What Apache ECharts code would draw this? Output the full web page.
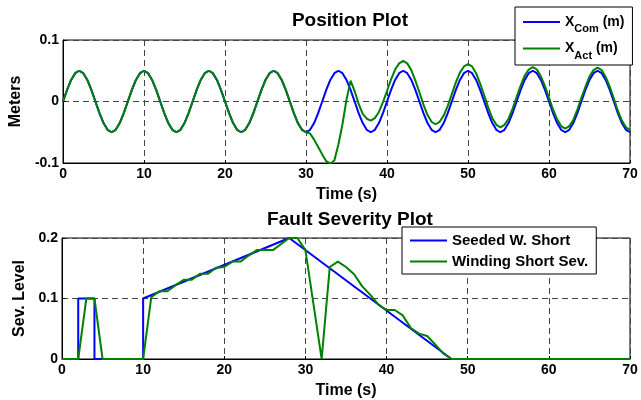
<!DOCTYPE html>
<html><head><meta charset="utf-8">
<script src="https://cdn.jsdelivr.net/npm/echarts@6/dist/echarts.min.js"></script>
<style>html,body{margin:0;padding:0;background:#fff}#c{width:641px;height:400px}</style>
</head><body><div id="c"></div>
<script>
// ---- data ----
const posStep = 0.5; // seconds between samples of the position traces
const posCom = [
 0,.019,.035,.046,.05,.046,.035,.019,0,-.019,-.035,-.046,-.05,-.046,-.035,-.019,
 0,.019,.035,.046,.05,.046,.035,.019,0,-.019,-.035,-.046,-.05,-.046,-.035,-.019,
 0,.019,.035,.046,.05,.046,.035,.019,0,-.019,-.035,-.046,-.05,-.046,-.035,-.019,
 0,.019,.035,.046,.05,.046,.035,.019,0,-.019,-.035,-.046,-.05,-.046,-.035,-.019,
 0,.019,.035,.046,.05,.046,.035,.019,0,-.019,-.035,-.046,-.05,-.046,-.035,-.019,
 0,.019,.035,.046,.05,.046,.035,.019,0,-.019,-.035,-.046,-.05,-.046,-.035,-.019,
 0,.019,.035,.046,.05,.046,.035,.019,0,-.019,-.035,-.046,-.05,-.046,-.035,-.019,
 0,.019,.035,.046,.05,.046,.035,.019,0,-.019,-.035,-.046,-.05,-.046,-.035,-.019,
 0,.019,.035,.046,.05,.046,.035,.019,0,-.019,-.035,-.046,-.05
];
const posAct = [
 0,.019,.035,.046,.05,.046,.035,.019,0,-.019,-.035,-.046,-.05,-.046,-.035,-.019,
 0,.019,.035,.046,.05,.046,.035,.019,0,-.019,-.035,-.046,-.05,-.046,-.035,-.019,
 0,.019,.035,.046,.05,.046,.035,.019,0,-.019,-.035,-.046,-.05,-.046,-.035,-.019,
 0,.019,.035,.046,.05,.046,.035,.019,0,-.019,-.035,-.046,-.05,
 -.052,-.062,-.074,-.086,-.097,-.101,-.096,-.07,-.037,.003,.034,.017,
 -.004,-.02,-.028,-.031,-.027,-.017,-.001,.017,.036,.052,.062,.066,
 .062,.051,.034,.015,-.005,-.022,-.033,-.037,-.033,-.023,-.007,.012,.031,.047,.057,.061,
 .057,.046,.029,.01,-.01,-.027,-.038,-.042,-.038,-.028,-.012,.007,.026,.042,.052,.056,
 .052,.041,.025,.006,-.013,-.029,-.04,-.044,-.04,-.03,-.013,.006,.024,.041,.051,.055,
 .051,.04,.024,.005,-.015,-.031,-.042,-.046
];
const seededT = [0, 2, 2, 4, 4, 10, 10, 28, 48, 70];
const seededV = [0, 0, 0.1, 0.1, 0, 0, 0.1, 0.2, 0, 0];
// winding short severity, one sample per second from t = 0
const windSev = [
 0,0,0,0.1,0.1,0,0,0,0,0,0,
 0.102,0.112,0.112,0.122,0.131,0.131,0.141,0.141,0.151,0.152,
 0.161,0.161,0.171,0.18,0.18,0.18,0.19,0.2,0.2,0.18,
 0.09,0,0.152,0.161,0.152,0.14,0.12,0.106,0.09,0.081,
 0.081,0.072,0.051,0.042,0.038,0.024,0.009,0,0,0,
 0,0,0,0,0,0,0,0,0,0,
 0,0,0,0,0,0,0,0,0,0
];
const xTicks = {min: 0, max: 70, interval: 10};
const posTicks = {min: -0.1, max: 0.1, interval: 0.1};
const sevTicks = {min: 0, max: 0.2, interval: 0.1};

// ---- chart ----
const FF = "'Liberation Sans', Arial, Helvetica, sans-serif";
const chart = echarts.init(document.getElementById('c'), null, {renderer: 'canvas'});
const blue = '#0000ff', green = '#008000';
function xAxis(g) {
  return {
    gridIndex: g, type: 'value', min: xTicks.min, max: xTicks.max, interval: xTicks.interval,
    name: 'Time (s)', nameLocation: 'middle', nameGap: 24,
    nameTextStyle: {fontSize: 16, fontWeight: 'bold', color: '#000', fontFamily: FF},
    axisLine: {onZero: false, lineStyle: {color: '#000', width: 1}},
    axisTick: {inside: true, length: 3, lineStyle: {color: '#000'}},
    axisLabel: {margin: 4, fontSize: 14, fontWeight: 'bold', color: '#000', fontFamily: FF},
    splitLine: {show: true, lineStyle: {color: '#444', width: 1, type: [6, 4]}}
  };
}
function yAxis(g, t, name, gap) {
  return {
    gridIndex: g, type: 'value', min: t.min, max: t.max, interval: t.interval,
    name: name, nameLocation: 'middle', nameGap: gap,
    nameTextStyle: {fontSize: 16, fontWeight: 'bold', color: '#000', fontFamily: FF},
    axisLine: {show: true, onZero: false, lineStyle: {color: '#000', width: 1}},
    axisTick: {show: true, inside: true, length: 3, lineStyle: {color: '#000'}},
    axisLabel: {margin: 4, fontSize: 14, fontWeight: 'bold', color: '#000', fontFamily: FF},
    splitLine: {show: true, lineStyle: {color: '#444', width: 1, type: [6, 4]}}
  };
}
const legText = {fontSize: 15, fontWeight: 'bold', color: '#000', fontFamily: FF};
const option = {
  backgroundColor: '#fff',
  animation: false,
  title: [
    {text: 'Position Plot', left: 345, top: 6, textAlign: 'center',
     textStyle: {fontSize: 19, fontWeight: 'bold', color: '#000', fontFamily: FF}},
    {text: 'Fault Severity Plot', left: 345, top: 205, textAlign: 'center',
     textStyle: {fontSize: 19, fontWeight: 'bold', color: '#000', fontFamily: FF}}
  ],
  grid: [
    {left: 62, right: 11, top: 40, height: 123, show: true, borderColor: '#000', borderWidth: 1, backgroundColor: 'transparent'},
    {left: 62, right: 11, top: 238, height: 122, show: true, borderColor: '#000', borderWidth: 1, backgroundColor: 'transparent'}
  ],
  xAxis: [xAxis(0), xAxis(1)],
  yAxis: [yAxis(0, posTicks, 'Meters', 31), yAxis(1, sevTicks, 'Sev. Level', 25)],
  legend: [
    {data: ['XCom', 'XAct'], orient: 'vertical', left: 515, top: 7,
     padding: [8, 8, 4, 8], itemGap: 7, itemWidth: 37, itemHeight: 2, icon: 'rect',
     borderColor: '#000', borderWidth: 1, backgroundColor: '#fff',
     formatter: function (n) { return n === 'XCom' ? '{m|X}{s|Com}{m| (m)}' : '{m|X}{s|Act}{m| (m)}'; },
     textStyle: Object.assign({}, legText, {rich: {
       m: {fontSize: 14, fontWeight: 'bold', color: '#000', fontFamily: FF},
       s: {fontSize: 11, fontWeight: 'bold', color: '#000', fontFamily: FF, padding: [14, 0, 0, 0]}
     }})},
    {data: ['Seeded W. Short', 'Winding Short Sev.'], orient: 'vertical', left: 402, top: 227,
     padding: [6, 8, 5, 8], itemGap: 6, itemWidth: 37, itemHeight: 2, icon: 'rect',
     borderColor: '#000', borderWidth: 1, backgroundColor: '#fff',
     textStyle: Object.assign({}, legText, {lineHeight: 14})}
  ],
  series: [
    {name: 'XCom', type: 'line', xAxisIndex: 0, yAxisIndex: 0, symbol: 'none',
     lineStyle: {color: blue, width: 2}, itemStyle: {color: blue},
     data: posCom.map((v, i) => [i * posStep, v])},
    {name: 'XAct', type: 'line', xAxisIndex: 0, yAxisIndex: 0, symbol: 'none',
     lineStyle: {color: green, width: 2}, itemStyle: {color: green},
     data: posAct.map((v, i) => [i * posStep, v])},
    {name: 'Seeded W. Short', type: 'line', xAxisIndex: 1, yAxisIndex: 1, symbol: 'none',
     lineStyle: {color: blue, width: 2}, itemStyle: {color: blue},
     data: seededT.map((t, i) => [t, seededV[i]])},
    {name: 'Winding Short Sev.', type: 'line', xAxisIndex: 1, yAxisIndex: 1, symbol: 'none',
     lineStyle: {color: green, width: 2}, itemStyle: {color: green},
     data: windSev.map((v, i) => [i, v])}
  ]
};
chart.setOption(option);
</script></body></html>
